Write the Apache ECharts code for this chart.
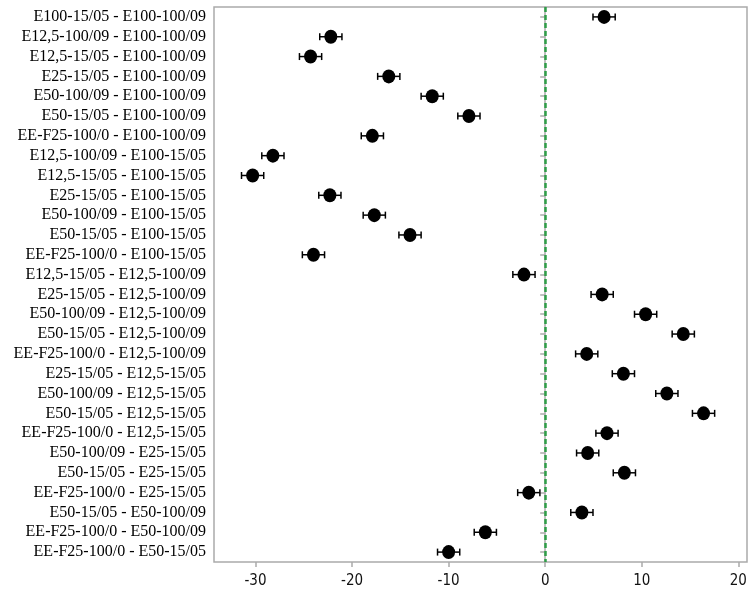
<!DOCTYPE html>
<html>
<head>
<meta charset="utf-8">
<script src="https://cdn.jsdelivr.net/npm/echarts@6/dist/echarts.min.js"></script>
<style>html,body{margin:0;padding:0;background:#fff}#c{width:755px;height:591px}</style>
</head>
<body>
<div id="c"></div>
<script>
var categories = [
  "E100-15/05 - E100-100/09",
  "E12,5-100/09 - E100-100/09",
  "E12,5-15/05 - E100-100/09",
  "E25-15/05 - E100-100/09",
  "E50-100/09 - E100-100/09",
  "E50-15/05 - E100-100/09",
  "EE-F25-100/0 - E100-100/09",
  "E12,5-100/09 - E100-15/05",
  "E12,5-15/05 - E100-15/05",
  "E25-15/05 - E100-15/05",
  "E50-100/09 - E100-15/05",
  "E50-15/05 - E100-15/05",
  "EE-F25-100/0 - E100-15/05",
  "E12,5-15/05 - E12,5-100/09",
  "E25-15/05 - E12,5-100/09",
  "E50-100/09 - E12,5-100/09",
  "E50-15/05 - E12,5-100/09",
  "EE-F25-100/0 - E12,5-100/09",
  "E25-15/05 - E12,5-15/05",
  "E50-100/09 - E12,5-15/05",
  "E50-15/05 - E12,5-15/05",
  "EE-F25-100/0 - E12,5-15/05",
  "E50-100/09 - E25-15/05",
  "E50-15/05 - E25-15/05",
  "EE-F25-100/0 - E25-15/05",
  "E50-15/05 - E50-100/09",
  "EE-F25-100/0 - E50-100/09",
  "EE-F25-100/0 - E50-15/05"
];
var means = [6.1, -22.2, -24.3, -16.2, -11.7, -7.9, -17.9, -28.2, -30.3, -22.3, -17.7, -14.0, -24.0, -2.2,
  5.9, 10.4, 14.3, 4.3, 8.1, 12.6, 16.4, 6.4, 4.4, 8.2, -1.7, 3.8, -6.2, -10.0];
var lower = [4.95, -23.35, -25.45, -17.35, -12.85, -9.05, -19.05, -29.35, -31.45, -23.45, -18.85, -15.15, -25.15, -3.35,
  4.75, 9.25, 13.15, 3.15, 6.95, 11.45, 15.25, 5.25, 3.25, 7.05, -2.85, 2.65, -7.35, -11.15];
var upper = [7.25, -21.05, -23.15, -15.05, -10.55, -6.75, -16.75, -27.05, -29.15, -21.15, -16.55, -12.85, -22.85, -1.05,
  7.05, 11.55, 15.45, 5.45, 9.25, 13.75, 17.55, 7.55, 5.55, 9.35, -0.55, 4.95, -5.05, -8.85];
var xTicks = [-30, -20, -10, 0, 10, 20];

var chart = echarts.init(document.getElementById('c'), null, {renderer: 'canvas'});
var errData = categories.map(function (c, i) { return [i, lower[i], upper[i]]; });
var ptData = categories.map(function (c, i) { return [means[i], i]; });

chart.setOption({
  animation: false,
  backgroundColor: '#fff',
  grid: {left: 214, right: 8, top: 7, bottom: 29, show: true, borderColor: '#aaaaaa', borderWidth: 1.5},
  xAxis: {
    type: 'value', min: -34.3, max: 20.9,
    splitLine: {show: false},
    axisLine: {lineStyle: {color: '#aaaaaa', width: 1.5}},
    axisTick: {show: true, length: 5, customValues: xTicks, lineStyle: {color: '#aaaaaa', width: 1.5}},
    axisLabel: {customValues: xTicks, color: '#111', fontFamily: 'DejaVu Sans Condensed', fontSize: 15, margin: 12}
  },
  yAxis: {
    type: 'category', data: categories, inverse: true,
    axisLine: {lineStyle: {color: '#aaaaaa', width: 1.5}},
    axisTick: {show: true, alignWithLabel: true, length: 5, lineStyle: {color: '#aaaaaa', width: 1.5}},
    axisLabel: {color: '#000', fontFamily: 'Liberation Serif', fontSize: 16, margin: 8, interval: 0},
    splitLine: {show: false}
  },
  series: [
    {
      type: 'custom',
      data: errData,
      encode: {y: 0, x: [1, 2]},
      renderItem: function (params, api) {
        var yi = api.value(0);
        var p1 = api.coord([api.value(1), yi]);
        var p2 = api.coord([api.value(2), yi]);
        var h = 3.5;
        var st = {stroke: '#000', lineWidth: 1.5};
        return {type: 'group', children: [
          {type: 'line', shape: {x1: p1[0], y1: p1[1], x2: p2[0], y2: p2[1]}, style: st},
          {type: 'line', shape: {x1: p1[0], y1: p1[1] - h, x2: p1[0], y2: p1[1] + h}, style: st},
          {type: 'line', shape: {x1: p2[0], y1: p2[1] - h, x2: p2[0], y2: p2[1] + h}, style: st}
        ]};
      },
      z: 2
    },
    {
      type: 'scatter',
      data: ptData,
      symbol: 'circle',
      symbolSize: [13, 14],
      itemStyle: {color: '#000', opacity: 1},
      z: 3,
      markLine: {
        silent: true,
        symbol: 'none',
        label: {show: false},
        lineStyle: {color: '#2f9e48', type: [5, 3], width: 2.5, opacity: 1},
        data: [{xAxis: 0}]
      }
    }
  ]
});
</script>
</body>
</html>
